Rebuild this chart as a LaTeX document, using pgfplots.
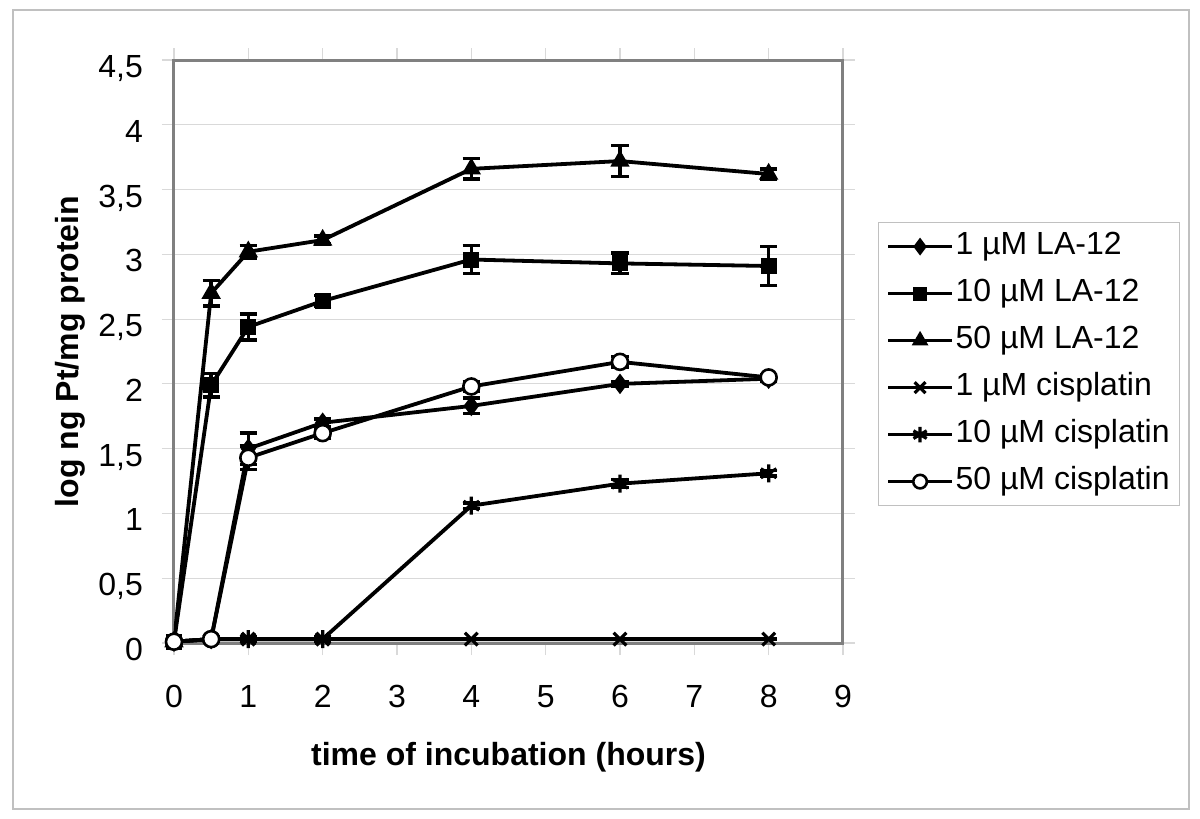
\documentclass[border=0pt]{standalone}
\usepackage{fontspec}
\setmainfont{Liberation Sans}
\usepackage{pgfplots}
\pgfplotsset{compat=1.18}
\definecolor{axgray}{RGB}{128,128,128}
\definecolor{gridgray}{RGB}{217,217,217}
\definecolor{framegray}{RGB}{192,192,192}
\begin{document}
\begin{tikzpicture}
\path[use as bounding box] (-87pt,-88pt) rectangle (513pt,321.5pt);
\fill[white] (-87pt,-88pt) rectangle (513pt,321.5pt);
\draw[framegray, line width=0.6pt] (-80.5pt,-83pt) rectangle (507.5pt,316.5pt);
\begin{axis}[
  at={(0,0)}, anchor=south west,
  scale only axis, width=334.5pt, height=291.5pt,
  xmin=0, xmax=9, ymin=0, ymax=4.5,
  xtick={0,1,2,3,4,5,6,7,8,9},
  ytick={0,0.5,1,1.5,2,2.5,3,3.5,4,4.5},
  /pgf/number format/assume math mode=true,
  /pgf/number format/use comma,
  tick label style={font=\fontsize{16}{19}\selectfont, text height=11.5pt, text depth=0pt},
  xticklabel style={yshift=-11pt},
  yticklabel style={xshift=-6pt, yshift=-3pt},
  tick align=outside,
  major tick length=6pt,
  tick style={gridgray, line width=0.6pt},
  ymajorgrids,
  grid style={gridgray, line width=0.6pt},
  axis line style={axgray, line width=1.5pt},
  xlabel={\textbf{time of incubation (hours)}},
  ylabel={\textbf{log ng Pt/mg protein}},
  label style={font=\fontsize{16}{19}\selectfont},
  xlabel style={at={(axis description cs:0.5,0)}, anchor=center, yshift=-57pt},
  ylabel style={at={(axis description cs:0,0.5)}, anchor=center, yshift=52pt},
  every axis plot/.append style={black, line width=1.9pt},
  error bars/y dir=both,
  error bars/y explicit,
  error bars/error bar style={line width=1.7pt, black},
  error bars/error mark options={line width=1.7pt, mark size=4.3pt, black, rotate=90},
  legend style={at={(1.0523,0.7221)}, anchor=north west, draw=framegray, line width=0.6pt,
    font=\fontsize{16}{19}\selectfont, row sep=6.5pt, inner xsep=4pt, inner ysep=3.5pt,
    nodes={inner sep=1pt, text height=11.5pt, text depth=3.5pt}},
  legend cell align=left,
  legend image code/.code={\draw[mark repeat=2, mark phase=2, #1, line width=1.5pt, /tikz/every mark/.append style={scale=0.85}] plot coordinates {(0pt,0pt)(16pt,0pt)(32pt,0pt)};},
]
\addplot[mark=diamond*, mark size=4.5pt, mark options={solid, fill=black, line width=0.8pt}]
  coordinates {(0,0.01) +- (0,0) (0.5,0.03) +- (0,0.02) (1,1.50) +- (0,0.12) (2,1.70) +- (0,0.03) (4,1.83) +- (0,0.06) (6,2.00) +- (0,0.02) (8,2.04) +- (0,0.02)};
\addlegendentry{1 µM LA-12}
\addplot[mark=square*, mark size=3.6pt, mark options={solid, fill=black, line width=0.8pt}]
  coordinates {(0,0.01) +- (0,0) (0.5,1.99) +- (0,0.09) (1,2.44) +- (0,0.10) (2,2.64) +- (0,0.04) (4,2.96) +- (0,0.11) (6,2.93) +- (0,0.08) (8,2.91) +- (0,0.15)};
\addlegendentry{10 µM LA-12}
\addplot[mark=triangle*, mark size=4.8pt, mark options={solid, fill=black, line width=0.8pt}]
  coordinates {(0,0.01) +- (0,0) (0.5,2.70) +- (0,0.10) (1,3.02) +- (0,0.05) (2,3.11) +- (0,0.03) (4,3.66) +- (0,0.08) (6,3.72) +- (0,0.12) (8,3.62) +- (0,0.04)};
\addlegendentry{50 µM LA-12}
\addplot[mark=x, mark size=4.5pt, mark options={solid, line width=1.6pt}]
  coordinates {(0,0.01) +- (0,0) (0.5,0.03) +- (0,0) (1,0.03) +- (0,0) (2,0.03) +- (0,0) (4,0.03) +- (0,0) (6,0.03) +- (0,0) (8,0.03) +- (0,0)};
\addlegendentry{1 µM cisplatin}
\addplot[mark=asterisk, mark size=4.5pt, mark options={solid, line width=1.6pt}]
  coordinates {(0,0.01) +- (0,0) (0.5,0.03) +- (0,0.02) (1,0.03) +- (0,0.02) (2,0.03) +- (0,0.02) (4,1.06) +- (0,0.02) (6,1.23) +- (0,0.03) (8,1.31) +- (0,0.02)};
\addlegendentry{10 µM cisplatin}
\addplot[mark=*, mark size=4pt, mark options={solid, fill=white, draw=black, line width=1.3pt}]
  coordinates {(0,0.01) +- (0,0) (0.5,0.03) +- (0,0.02) (1,1.43) +- (0,0.09) (2,1.62) +- (0,0.04) (4,1.98) +- (0,0.04) (6,2.17) +- (0,0.04) (8,2.05) +- (0,0.02)};
\addlegendentry{50 µM cisplatin}
\end{axis}
\end{tikzpicture}
\end{document}
